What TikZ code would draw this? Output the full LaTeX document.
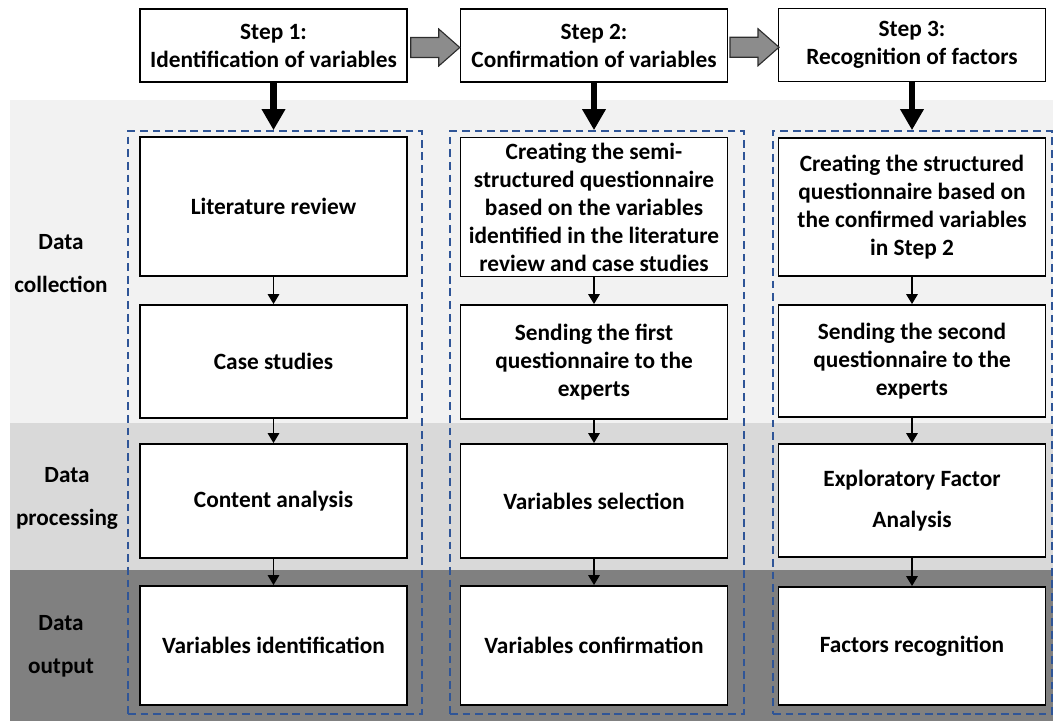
\documentclass[tikz,border=0pt]{standalone}
\usepackage{fontspec}
\setmainfont{Carlito}
\usetikzlibrary{arrows.meta,calc}
\definecolor{bandone}{HTML}{F2F2F2}
\definecolor{bandtwo}{HTML}{D9D9D9}
\definecolor{bandthree}{HTML}{808080}
\definecolor{dashblue}{HTML}{2F5597}

\begin{document}
\begin{tikzpicture}[
            x=0.025cm, y=-0.025cm,
            stepbox/.style={draw=black,line width=1.3pt,fill=white,minimum width=6.675cm,
                minimum height=1.825cm,align=center,inner sep=0pt,
                font=\bfseries\fontsize{16.6}{19.9}\selectfont},
            groupbox/.style={draw=dashblue,dash pattern=on 5.5pt off 3.5pt,line width=1.1pt,
                minimum height=14.575cm,inner sep=0pt},
            bandlabel/.style={align=center,font=\bfseries\fontsize{16.5}{30.6}\selectfont},
            flow/.style={-{Triangle[length=7pt,width=8pt]},line width=1.3pt},
            bigflow/.style={-{Triangle[length=15pt,width=16pt]},line width=4.5pt},
            nextstep/.style={draw=gray!35!black,fill=gray!90,line width=0.8pt,line join=miter},
            ]
            \useasboundingbox (0,0) rectangle (1053,721);
            
            \fill[bandone] (10,100) rectangle (1053,423);
            \fill[bandtwo] (10,423) rectangle (1053,570);
            \fill[bandthree] (10,570) rectangle (1053,721);
            
            \node[bandlabel] (l1) at (61,264) {Data\\collection};
            \node[bandlabel] (l2) at (67,498) {Data\\processing};
            \node[bandlabel] (l3) at (61,646) {Data\\output};
            
            \node[groupbox, minimum width=7.35cm] (g1) at (275,422.5) {};
            \node[groupbox, minimum width=7.35cm] (g2) at (597,422.5) {};
            \node[groupbox, minimum width=6.975cm] (g3) at (912.5,422.5) {};
            
            \node[stepbox] (s1) at (273.5,45.5) {Step 1:\\Identification of variables};
            \node[stepbox] (s2) at (594,45.5) {Step 2:\\Confirmation of variables};
            \node[stepbox] (s3) at (912,45) {Step 3:\\Recognition of factors};
            
            \coordinate (n1) at ($(s1.east)!0.5!(s2.west)+(1,2)$);
            \coordinate (n2) at ($(s2.east)!0.5!(s3.west)+(1,2)$);
            \foreach \n in {n1,n2}
                \filldraw[nextstep] ($(\n)+(-24,-10)$) -- ($(\n)+(4,-10)$) -- ($(\n)+(4,-18.5)$)
                    -- ($(\n)+(25,0)$) -- ($(\n)+(4,18.5)$) -- ($(\n)+(4,10)$) -- ($(\n)+(-24,10)$) -- cycle;
            
            \node[stepbox, minimum height=3.475cm] (a1) at (273.5,206.5) {Literature review};
            \node[stepbox, minimum height=2.825cm] (a2) at (273.5,361.5) {Case studies};
            \node[stepbox, minimum height=2.85cm] (a3) at (273.5,501) {Content analysis};
            \node[stepbox, minimum height=2.975cm] (a4) at (273.5,645.5) {Variables identification};
            
            \node[stepbox, minimum height=3.475cm] (b1) at (594,207) {Creating the semi-\\structured questionnaire\\based on the variables\\identified in the literature\\review and case studies};
            \node[stepbox, minimum height=2.85cm] (b2) at (594,362) {Sending the first\\questionnaire to the\\experts};
            \node[stepbox, minimum height=2.85cm] (b3) at (594,501) {Variables selection};
            \node[stepbox, minimum height=2.975cm] (b4) at (594,645.5) {Variables confirmation};
            
            \node[stepbox, minimum height=3.45cm] (c1) at (912,207) {Creating the structured\\questionnaire based on\\the confirmed variables\\in Step 2};
            \node[stepbox, minimum height=2.8cm] (c2) at (912,361) {Sending the second\\questionnaire to the\\experts};
            \node[stepbox, minimum height=2.825cm] (c3) at (912,500.5) {Exploratory Factor\\[0.33cm]Analysis};
            \node[stepbox, minimum height=2.95cm] (c4) at (912,646) {Factors recognition};
            
            \draw[bigflow] (s1.south) -- (s1.south |- g1.north);
            \draw[bigflow] (s2.south) -- (s2.south |- g2.north);
            \draw[bigflow] (s3.south) -- (s3.south |- g3.north);
            
            \draw[flow] (a1) -- (a2);
            \draw[flow] (a2) -- (a3);
            \draw[flow] (a3) -- (a4);
            \draw[flow] (b1) -- (b2);
            \draw[flow] (b2) -- (b3);
            \draw[flow] (b3) -- (b4);
            \draw[flow] (c1) -- (c2);
            \draw[flow] (c2) -- (c3);
            \draw[flow] (c3) -- (c4);
        \end{tikzpicture}
\end{document}
